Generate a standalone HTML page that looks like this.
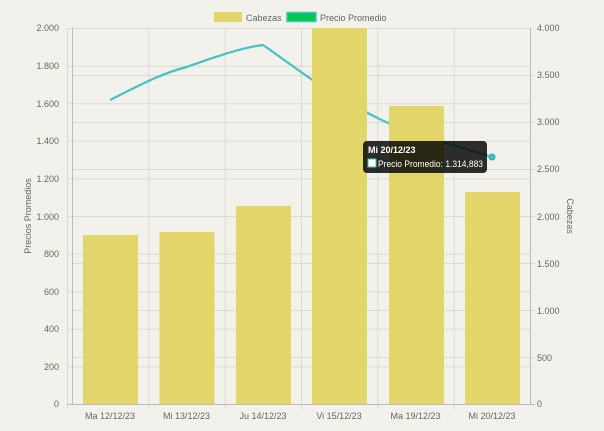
<!DOCTYPE html>
<html><head><style>
body{margin:0;background:#f3f1ec;}
svg{display:block;font-family:"Liberation Sans",sans-serif;}
</style></head><body>
<svg width="604" height="431" viewBox="0 0 604 431">
<rect width="604" height="431" fill="#f3f1ec"/>
<g stroke="#dcdad5" stroke-width="1">
<line x1="67" y1="28.5" x2="530" y2="28.5"/>
<line x1="67" y1="66.1" x2="530" y2="66.1"/>
<line x1="67" y1="103.7" x2="530" y2="103.7"/>
<line x1="67" y1="141.3" x2="530" y2="141.3"/>
<line x1="67" y1="178.9" x2="530" y2="178.9"/>
<line x1="67" y1="216.5" x2="530" y2="216.5"/>
<line x1="67" y1="254.1" x2="530" y2="254.1"/>
<line x1="67" y1="291.7" x2="530" y2="291.7"/>
<line x1="67" y1="329.3" x2="530" y2="329.3"/>
<line x1="67" y1="366.9" x2="530" y2="366.9"/>
<line x1="72" y1="75.5" x2="535" y2="75.5"/>
<line x1="72" y1="122.5" x2="535" y2="122.5"/>
<line x1="72" y1="169.5" x2="535" y2="169.5"/>
<line x1="72" y1="216.5" x2="535" y2="216.5"/>
<line x1="72" y1="263.5" x2="535" y2="263.5"/>
<line x1="72" y1="310.5" x2="535" y2="310.5"/>
<line x1="72" y1="357.5" x2="535" y2="357.5"/>
<line x1="148.8" y1="28" x2="148.8" y2="409"/>
<line x1="225.2" y1="28" x2="225.2" y2="409"/>
<line x1="301.5" y1="28" x2="301.5" y2="409"/>
<line x1="377.8" y1="28" x2="377.8" y2="409"/>
<line x1="454.2" y1="28" x2="454.2" y2="409"/>
<line x1="67.5" y1="28" x2="67.5" y2="409"/>
</g>
<g stroke="#bdbbb6"><line x1="72.5" y1="28" x2="72.5" y2="404"/><line x1="530.5" y1="28" x2="530.5" y2="404"/><line x1="67" y1="404.5" x2="535" y2="404.5"/></g>
<path d="M110,100 C140,85 160,74 186.5,67 C215,57 240,48 263,45 C285,60 310,80 339,97 C370,115 390,125 415.5,134 C445,143 470,150 492,157" fill="none" stroke="#44c2c0" stroke-width="2.2"/>
<g fill="#e2d66a">
<rect x="83" y="235" width="55" height="169"/>
<rect x="159.5" y="232" width="55" height="172"/>
<rect x="236" y="206" width="55" height="198"/>
<rect x="312" y="28" width="55" height="376"/>
<rect x="389" y="106" width="55" height="298"/>
<rect x="465" y="192" width="55" height="212"/>
</g>
<circle cx="492" cy="157" r="3" fill="#44c2c0" stroke="#2fa9a8"/>
<g font-size="9" fill="#666" text-anchor="end">
<text x="59" y="31">2.000</text><text x="59" y="69">1.800</text><text x="59" y="107">1.600</text><text x="59" y="144">1.400</text><text x="59" y="182">1.200</text><text x="59" y="220">1.000</text><text x="59" y="257">800</text><text x="59" y="295">600</text><text x="59" y="332">400</text><text x="59" y="370">200</text><text x="59" y="407">0</text>
</g>
<g font-size="9" fill="#666">
<text x="537" y="31">4.000</text><text x="537" y="78">3.500</text><text x="537" y="125">3.000</text><text x="537" y="172">2.500</text><text x="537" y="220">2.000</text><text x="537" y="267">1.500</text><text x="537" y="314">1.000</text><text x="537" y="361">500</text><text x="537" y="407">0</text>
</g>
<g font-size="9" fill="#666" text-anchor="middle">
<text x="110" y="419">Ma 12/12/23</text><text x="186.5" y="419">Mi 13/12/23</text><text x="263" y="419">Ju 14/12/23</text><text x="339" y="419">Vi 15/12/23</text><text x="415.5" y="419">Ma 19/12/23</text><text x="492" y="419">Mi 20/12/23</text>
</g>
<text transform="translate(31,216) rotate(-90)" font-size="9" fill="#666" text-anchor="middle">Precios Promedios</text>
<text transform="translate(567,216) rotate(90)" font-size="9" fill="#666" text-anchor="middle">Cabezas</text>
<rect x="214" y="12" width="28" height="10" fill="#e2d66a"/>
<text x="246" y="21" font-size="9" fill="#666">Cabezas</text>
<rect x="287" y="12.5" width="29" height="9" fill="#00c94a" stroke="#44c2c0" stroke-width="1.5"/>
<text x="320" y="21" font-size="9" fill="#666">Precio Promedio</text>
<rect x="363" y="141" width="124" height="32" rx="4" fill="rgba(0,0,0,0.82)"/>
<text x="368" y="153" font-size="9" font-weight="bold" fill="#fff">Mi 20/12/23</text>
<rect x="368" y="159" width="8" height="8" fill="#fff" stroke="#44c2c0"/>
<text x="378" y="167" font-size="9" fill="#fff" textLength="105" lengthAdjust="spacingAndGlyphs">Precio Promedio: 1.314,883</text>
</svg>
</body></html>
